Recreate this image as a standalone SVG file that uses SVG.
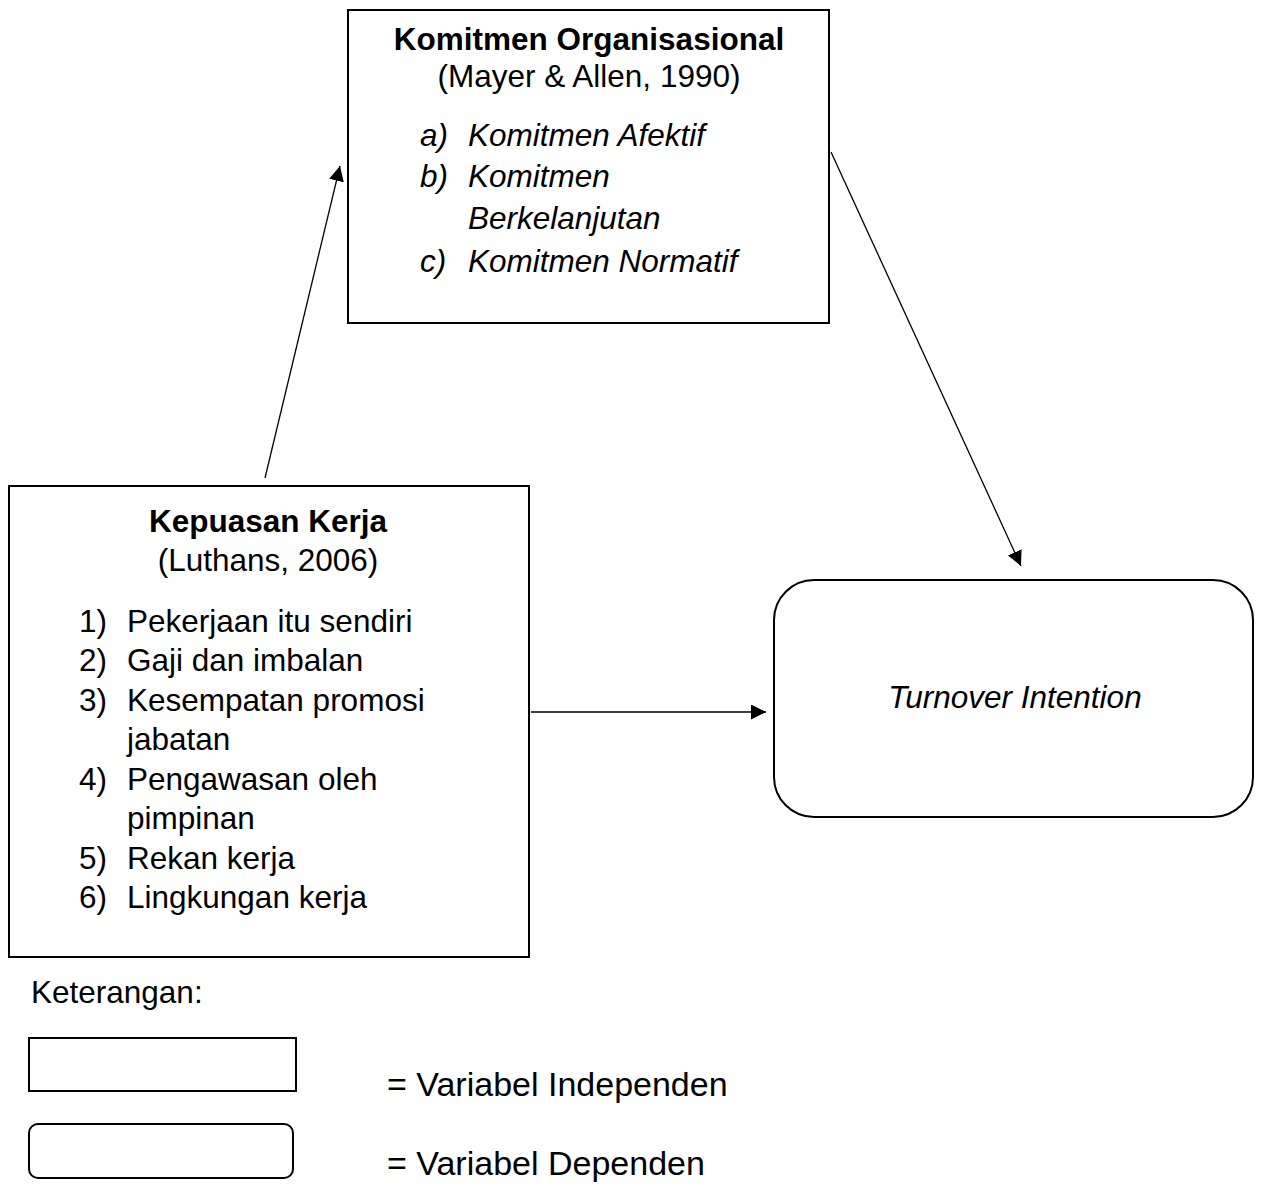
<svg xmlns="http://www.w3.org/2000/svg" width="1262" height="1189" viewBox="0 0 1262 1189">
<style>
text{font-family:"Liberation Sans",Arial,sans-serif;font-size:31.5px;fill:#000}
.b{font-weight:bold}
.i{font-style:italic}
.m{text-anchor:middle}
.lg{font-size:34px}
.box{fill:#fff;stroke:#000;stroke-width:2}
.con{stroke:#000;stroke-width:1.3;fill:none}
</style>
<defs>
<marker id="ah" viewBox="0 0 10 10" refX="10" refY="5" markerWidth="15" markerHeight="15" markerUnits="userSpaceOnUse" orient="auto">
<path d="M0,0 L10,5 L0,10 z" fill="#000"/>
</marker>
</defs>
<rect width="1262" height="1189" fill="#fff"/>
<g id="komitmen">
<rect class="box" x="348" y="10" width="481" height="313"/>
<text class="b m" x="589" y="50">Komitmen Organisasional</text>
<text class="m" x="589" y="87">(Mayer &amp; Allen, 1990)</text>
<text class="i" x="420" y="146">a)</text><text class="i" x="468" y="146">Komitmen Afektif</text>
<text class="i" x="420" y="187">b)</text><text class="i" x="468" y="187">Komitmen</text>
<text class="i" x="468" y="229">Berkelanjutan</text>
<text class="i" x="420" y="272">c)</text><text class="i" x="468" y="272">Komitmen Normatif</text>
</g>
<g id="kepuasan">
<rect class="box" x="9" y="486" width="520" height="471"/>
<text class="b m" x="268" y="532">Kepuasan Kerja</text>
<text class="m" x="268" y="571">(Luthans, 2006)</text>
<text x="79" y="632">1)</text><text x="127" y="632">Pekerjaan itu sendiri</text>
<text x="79" y="671">2)</text><text x="127" y="671">Gaji dan imbalan</text>
<text x="79" y="711">3)</text><text x="127" y="711">Kesempatan promosi</text>
<text x="127" y="750">jabatan</text>
<text x="79" y="790">4)</text><text x="127" y="790">Pengawasan oleh</text>
<text x="127" y="829">pimpinan</text>
<text x="79" y="869">5)</text><text x="127" y="869">Rekan kerja</text>
<text x="79" y="908">6)</text><text x="127" y="908">Lingkungan kerja</text>
</g>
<g id="turnover">
<rect class="box" x="774" y="580" width="479" height="237" rx="40" ry="40"/>
<text class="i m" x="1015" y="708">Turnover Intention</text>
</g>
<g id="connectors">
<line class="con" x1="265" y1="478" x2="340" y2="166" marker-end="url(#ah)"/>
<line class="con" x1="831" y1="152" x2="1021" y2="566" marker-end="url(#ah)"/>
<line class="con" x1="531" y1="712" x2="766" y2="712" marker-end="url(#ah)"/>
</g>
<g id="legend">
<text x="31" y="1003">Keterangan:</text>
<rect class="box" x="29" y="1038" width="267" height="53" stroke-width="1.5"/>
<rect class="box" x="29" y="1124" width="264" height="54" rx="9" ry="9" stroke-width="1.5"/>
<text class="lg" x="387" y="1096">= Variabel Independen</text>
<text class="lg" x="387" y="1175">= Variabel Dependen</text>
</g>
</svg>
